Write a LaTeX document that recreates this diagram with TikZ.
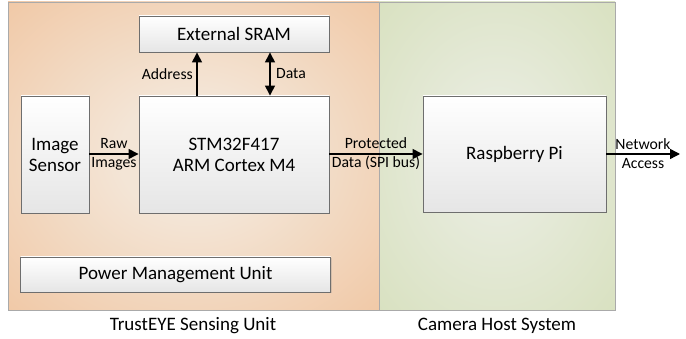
\documentclass[tikz,border=0pt]{standalone}
\usepackage{fontspec}
\setmainfont{Carlito}
\usetikzlibrary{arrows.meta,shadows}
\definecolor{oin}{RGB}{243,229,214}
\definecolor{oout}{RGB}{240,186,142}
\definecolor{gin}{RGB}{231,235,220}
\definecolor{gout}{RGB}{209,220,178}
\definecolor{boxline}{RGB}{110,110,110}
\definecolor{panelline}{RGB}{170,170,170}
\pgfdeclareradialshading{oglow}{\pgfpoint{0bp}{0bp}}{color(0bp)=(oin); color(10bp)=(oin); color(49bp)=(oout); color(50bp)=(oout)}
\pgfdeclareradialshading{gglow}{\pgfpoint{0bp}{0bp}}{color(0bp)=(gin); color(10bp)=(gin); color(49bp)=(gout); color(50bp)=(gout)}
\tikzset{
  blk/.style={draw=boxline, line width=0.9pt, top color=white, bottom color=black!10,
    drop shadow={shadow xshift=1.2pt, shadow yshift=-1.2pt, opacity=0.25},
    font=\fontsize{19}{22}\selectfont, align=center, inner sep=0pt},
  lbl/.style={font=\fontsize{15.7}{19}\selectfont, align=center, inner sep=0pt},
  captxt/.style={font=\fontsize{19}{22}\selectfont, inner sep=0pt},
  conn/.style={line width=1.4pt, -{Triangle[length=10pt,width=10pt]}},
  conn2/.style={line width=1.4pt, {Triangle[length=10pt,width=10pt]}-{Triangle[length=10pt,width=10pt]}}
}
\begin{document}
\begin{tikzpicture}[x=1pt,y=-1pt]
\useasboundingbox (0,0) rectangle (686,339);
% panels
\path[shading=oglow] (8,2) rectangle (379,310);
\path[shading=gglow] (379,2) rectangle (615,310);
\draw[panelline, line width=0.7pt] (8,2) rectangle (379,310);
\draw[panelline, line width=0.7pt] (379,2) rectangle (615,310);
% blocks
\node[blk, minimum width=190pt, minimum height=36pt] (sram) at (234,34) {External SRAM};
\node[blk, minimum width=68pt, minimum height=117pt] (sens) at (55,154.5) {Image\\[-1pt]Sensor};
\node[blk, minimum width=190pt, minimum height=117pt] (cpu) at (234,154.5) {STM32F417\\[-1pt]ARM Cortex M4};
\node[blk, minimum width=183pt, minimum height=116pt] (rpi) at (514.5,154) {Raspberry Pi};
\node[blk, minimum width=310pt, minimum height=35pt] (pmu) at (175.5,274.5) {Power Management Unit};
% connectors
\coordinate (net) at (680,154);
\draw[conn] (cpu.north -| 197,0) -- (sram.south -| 197,0);
\draw[conn2] (cpu.north -| 270,0) -- (sram.south -| 270,0);
\draw[conn] (sens.east |- 0,154) -- (cpu.west |- 0,154);
\draw[conn] (cpu.east |- 0,154) -- (rpi.west |- 0,154);
\draw[conn] (rpi.east |- 0,154) -- (net);
% labels
\node[lbl, anchor=east] (laddr) at (193,74) {Address};
\node[lbl, anchor=west] (ldata) at (276,74) {Data};
\node[lbl] (lraw) at (114,154) {Raw\\[0pt]Images};
\node[lbl] (lprot) at (376,154) {Protected\\[0pt]Data (SPI bus)};
\node[lbl] (lnet) at (643,154) {Network\\[0pt]Access};
\node[captxt] (ctrust) at (193,326) {TrustEYE Sensing Unit};
\node[captxt] (chost) at (497,326) {Camera Host System};
\end{tikzpicture}
\end{document}
